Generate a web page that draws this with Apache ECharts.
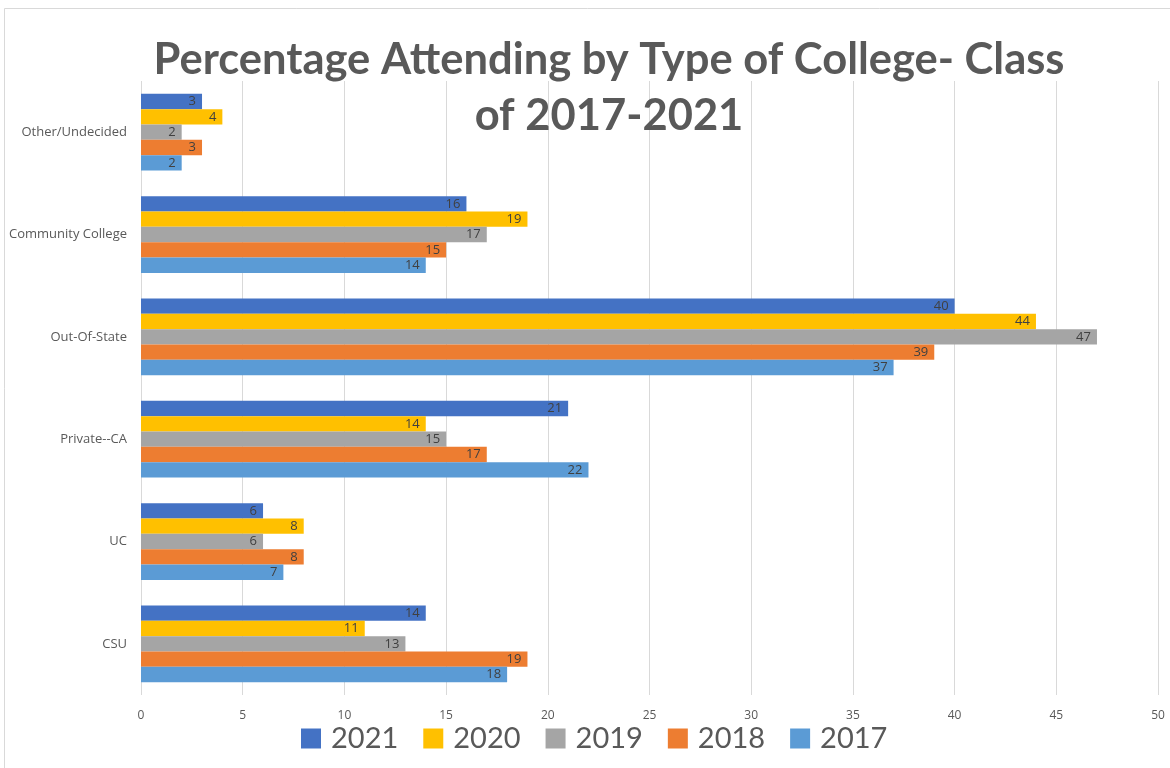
<!DOCTYPE html>
<html><head><meta charset="utf-8">
<script src="https://cdn.jsdelivr.net/npm/echarts@6/dist/echarts.min.js"></script>
<style>html,body{margin:0;padding:0;background:#fff}#c{width:1170px;height:768px}</style>
</head><body><div id="c"></div>
<script>
const categories = ['CSU', 'UC', 'Private--CA', 'Out-Of-State', 'Community College', 'Other/Undecided'];
const years = ['2021', '2020', '2019', '2018', '2017'];
const v2021 = [14, 6, 21, 40, 16, 3];
const v2020 = [11, 8, 14, 44, 19, 4];
const v2019 = [13, 6, 15, 47, 17, 2];
const v2018 = [19, 8, 17, 39, 15, 3];
const v2017 = [18, 7, 22, 37, 14, 2];
const xTicks = [0, 5, 10, 15, 20, 25, 30, 35, 40, 45, 50];

const values = [v2021, v2020, v2019, v2018, v2017];
const colors = ['#4472C4', '#FFC000', '#A5A5A5', '#ED7D31', '#5B9BD5'];

const chart = echarts.init(document.getElementById('c'));
chart.setOption({
  animation: false,
  graphic: [{type: 'rect', shape: {x: 4.5, y: 8.5, width: 1180, height: 780}, style: {fill: 'none', stroke: '#d9d9d9', lineWidth: 1}, z: -1}],
  title: {
    text: 'Percentage Attending by Type of College- Class\nof 2017-2021',
    left: 604, top: 27, textAlign: 'center',
    textStyle: {fontFamily: 'Lato', fontWeight: 'bold', fontSize: 43.5, color: '#595959', lineHeight: 56}
  },
  legend: {
    data: years,
    bottom: 10, left: 296,
    itemWidth: 20, itemHeight: 20, itemGap: 25,
    icon: 'rect',
    textStyle: {fontFamily: 'Lato', fontSize: 29, color: '#595959', padding: [0, 0, 0, 5]}
  },
  grid: {left: 141, right: 12, top: 81, bottom: 73},
  xAxis: {
    type: 'value', min: xTicks[0], max: xTicks[xTicks.length - 1], interval: 5,
    axisLine: {show: false}, axisTick: {show: false},
    splitLine: {lineStyle: {color: '#d9d9d9'}},
    axisLabel: {fontFamily: 'Open Sans', fontSize: 12, color: '#595959', margin: 15}
  },
  yAxis: {
    type: 'category', data: categories,
    axisLine: {show: false}, axisTick: {show: false},
    axisLabel: {fontFamily: 'Open Sans', fontSize: 13, color: '#595959', margin: 14}
  },
  series: years.map((y, i) => ({
    name: y, type: 'bar', data: values[i],
    barGap: '0%', barCategoryGap: '25%',
    itemStyle: {color: colors[i]},
    label: {show: true, position: 'insideRight', distance: 6, fontFamily: 'Open Sans', fontSize: 13, color: '#404040'}
  }))
});
</script></body></html>
